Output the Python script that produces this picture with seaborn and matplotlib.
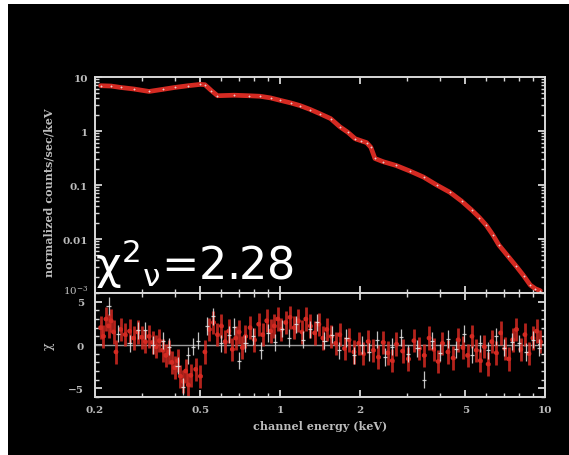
import numpy as np
import pandas as pd
import seaborn as sns
import matplotlib.pyplot as plt
import matplotlib.transforms as mtransforms
from matplotlib.patches import Rectangle
from matplotlib.ticker import FixedLocator, LogLocator, MultipleLocator, NullFormatter

# ---- data ----
spec_energy = [0.21, 0.23, 0.25, 0.28, 0.32, 0.36, 0.40, 0.45, 0.50, 0.52, 0.55, 0.58,
               0.67, 0.76, 0.84, 0.92, 1.00, 1.10, 1.19, 1.30, 1.41, 1.55, 1.68, 1.80,
               1.92, 2.02, 2.12, 2.20, 2.28, 2.45, 2.74, 3.10, 3.48, 3.90, 4.38, 4.85,
               5.30, 5.65, 6.00, 6.35, 6.70, 7.25, 7.80, 8.30, 8.80, 9.20, 9.60]
spec_flux = [6.9, 6.8, 6.4, 6.0, 5.4, 5.9, 6.4, 6.9, 7.3, 7.2, 5.6, 4.5,
             4.6, 4.5, 4.4, 4.1, 3.7, 3.3, 2.95, 2.5, 2.1, 1.7, 1.2, 0.95,
             0.72, 0.66, 0.61, 0.50, 0.31, 0.27, 0.23, 0.18, 0.14, 0.10, 0.073, 0.050,
             0.034, 0.025, 0.018, 0.012, 0.0077, 0.0048, 0.0031, 0.0021, 0.0014, 0.0012, 0.0011]

red_energy = [0.21, 0.215, 0.22, 0.225, 0.23, 0.235, 0.24, 0.25, 0.26, 0.27, 0.28, 0.29,
              0.30, 0.31, 0.32, 0.33, 0.34, 0.35, 0.36, 0.37, 0.38, 0.39, 0.40, 0.41,
              0.42, 0.43, 0.44, 0.45, 0.46, 0.48, 0.50, 0.52, 0.54, 0.56, 0.58, 0.60,
              0.62, 0.64, 0.66, 0.68, 0.70, 0.72, 0.74, 0.77, 0.80, 0.83, 0.86, 0.89,
              0.92, 0.95, 0.98, 1.01, 1.05, 1.09, 1.13, 1.17, 1.21, 1.25, 1.30, 1.35,
              1.40, 1.45, 1.50, 1.56, 1.62, 1.68, 1.75, 1.82, 1.90, 1.98, 2.06, 2.15,
              2.25, 2.35, 2.45, 2.55, 2.65, 2.75, 2.90, 3.05, 3.20, 3.35, 3.50, 3.65,
              3.80, 3.95, 4.10, 4.30, 4.50, 4.70, 4.90, 5.10, 5.30, 5.50, 5.70, 5.90,
              6.10, 6.30, 6.55, 6.80, 7.05, 7.30, 7.55, 7.80, 8.10, 8.40, 8.70, 9.00,
              9.30, 9.60]
red_resid = [2.0, 1.0, 3.0, 2.2, 2.8, 1.5, -0.8, 1.8, 1.2, 1.6, 0.8, 1.5,
             0.9, 0.4, 1.0, 0.3, -0.2, 0.5, -0.6, -1.2, -0.8, -2.0, -2.6, -1.8,
             -3.6, -4.2, -3.0, -4.6, -3.5, -2.8, -3.6, -0.8, 1.8, 2.6, 1.2, 2.2,
             0.4, 1.6, -0.5, 0.8, 1.5, -0.3, 1.0, 2.0, 0.6, 2.4, 1.2, 2.8,
             1.6, 2.2, 3.0, 1.8, 2.6, 3.2, 2.0, 2.8, 1.5, 3.0, 2.2, 1.4,
             2.4, 0.8, 1.8, 1.0, 0.2, 1.2, -0.4, 0.6, -0.8, 0.2, -1.0, 0.4,
             -0.6, -1.4, 0.3, -0.9, -1.8, 0.1, -0.7, -1.6, 0.5, -0.4, -1.2, 0.8,
             -0.5, -1.9, 0.2, -0.8, -1.5, 0.6, -0.3, -1.2, 1.0, -0.6, -1.8, -0.2,
             -2.2, 0.4, -0.9, 1.4, -0.4, -1.6, 0.6, 1.8, -0.5, 1.2, -1.0, 0.8,
             1.6, 0.4]

white_energy = [0.225, 0.245, 0.27, 0.29, 0.31, 0.33, 0.36, 0.38, 0.41, 0.43, 0.45, 0.47,
                0.49, 0.53, 0.56, 0.60, 0.64, 0.67, 0.70, 0.74, 0.79, 0.85, 0.90, 0.96,
                1.02, 1.08, 1.15, 1.22, 1.30, 1.38, 1.47, 1.57, 1.67, 1.78, 1.90, 2.03,
                2.17, 2.32, 2.48, 2.65, 2.85, 3.05, 3.30, 3.50, 3.75, 4.00, 4.30, 4.60,
                4.95, 5.30, 5.70, 6.10, 6.55, 7.00, 7.50, 8.00, 8.50, 9.00, 9.50]
white_resid = [4.5, 1.3, 0.2, 1.7, 1.7, 0.0, 0.5, -0.2, -2.4, -4.8, -1.2, -0.2,
               0.5, 2.2, 3.3, 0.2, 1.2, 2.1, -1.8, 0.2, 1.0, -0.6, 1.4, 0.3,
               1.9, 0.8, 2.4, 0.6, 1.8, 2.6, 0.5, 1.2, -0.6, 0.8, -1.2, 0.0,
               -0.8, 0.6, -1.4, -0.2, 0.9, -1.0, -0.4, -4.0, 0.5, -0.9, 0.7, -0.5,
               1.3, -1.1, 0.2, -0.6, 1.0, -0.3, 0.4, 0.2, -0.8, 0.6, -0.3]

x_ticks = [0.2, 0.5, 1, 2, 5, 10]
x_tick_labels = ['0.2', '0.5', '1', '2', '5', '10']
y_ticks_top = [1e-3, 0.01, 0.1, 1, 10]
y_tick_labels_top = [r'$10^{-3}$', '0.01', '0.1', '1', '10']
y_ticks_res = [-5, 0, 5]
y_tick_labels_res = ['\u22125', '0', '5']

# ---- style ----
sns.set_style('ticks')
plt.rcParams.update({
    'axes.facecolor': 'black',
    'axes.edgecolor': '#d8d8d8',
    'axes.linewidth': 1.4,
    'mathtext.fontset': 'dejavuserif',
})
SPINE = '#d8d8d8'
LABEL = '#bdbdbd'
RED = '#d42a22'

fig = plt.figure(figsize=(5.69, 4.56), dpi=100)
fig.patch.set_facecolor('white')
fig.add_artist(Rectangle((8 / 569, 0), 1 - 8 / 569, 1 - 5 / 456, transform=fig.transFigure,
                         facecolor='black', edgecolor='none', zorder=-5))

ax1 = fig.add_axes([95 / 569, 1 - 294 / 456, 450 / 569, 216 / 456])
ax2 = fig.add_axes([95 / 569, 1 - 398 / 456, 450 / 569, 104 / 456])

# upper panel: spectrum (red model line with white data crosses)
df_spec = pd.DataFrame({'energy': spec_energy, 'flux': spec_flux})
sns.lineplot(data=df_spec, x='energy', y='flux', ax=ax1, color=RED, linewidth=3.4)
sns.scatterplot(data=df_spec, x='energy', y='flux', ax=ax1, color='#f0f0f0',
                s=4, marker='+', linewidth=0.6, alpha=0.8, zorder=4)

# lower panel: residuals
ax2.axhline(0, color='#9a9a9a', linewidth=1.0, zorder=1)
red_e = np.array(red_energy)
white_e = np.array(white_energy)
ax2.errorbar(red_e, red_resid, yerr=1.35, xerr=red_e * 0.012, fmt='none',
             ecolor=RED, elinewidth=2.0, alpha=0.85, zorder=2)
ax2.errorbar(white_e, white_resid, yerr=1.0, xerr=white_e * 0.018, fmt='none',
             ecolor='#e6e6e6', elinewidth=0.9, alpha=0.85, zorder=3)
df_red = pd.DataFrame({'energy': red_energy, 'resid': red_resid})
sns.scatterplot(data=df_red, x='energy', y='resid', ax=ax2, color=RED, s=12,
                edgecolor='none', zorder=2)

for ax in (ax1, ax2):
    ax.set_xscale('log')
    ax.set_xlim(0.2, 10)
    ax.xaxis.set_major_locator(FixedLocator(x_ticks))
    ax.xaxis.set_minor_locator(LogLocator(base=10, subs=np.arange(2, 10)))
    ax.xaxis.set_minor_formatter(NullFormatter())
    ax.tick_params(which='both', direction='in', top=True, right=True,
                   color=SPINE, labelcolor=LABEL, labelsize=7.5)
    ax.tick_params(which='major', length=5, width=1.3)
    ax.tick_params(which='minor', length=2.8, width=1.0)
    ax.set_xlabel('')
    ax.set_ylabel('')
    for sp in ax.spines.values():
        sp.set_color(SPINE)

ax1.set_yscale('log')
ax1.set_ylim(1e-3, 10)
ax1.set_yticks(y_ticks_top)
ax1.set_yticklabels(y_tick_labels_top, family='DejaVu Serif', fontweight='bold')
ax1.yaxis.set_minor_locator(LogLocator(base=10, subs=np.arange(2, 10)))
ax1.yaxis.set_minor_formatter(NullFormatter())
ax1.tick_params(axis='x', labelbottom=False)
ax1.tick_params(axis='y', pad=5)
# nudge the bottom label up a little so it clears the residual "5"
lab_low = ax1.get_yticklabels()[0]
lab_low.set_transform(lab_low.get_transform() +
                      mtransforms.ScaledTranslation(0, 3 / 72, fig.dpi_scale_trans))

ax2.set_ylim(-6, 6)
ax2.set_yticks(y_ticks_res)
ax2.set_yticklabels(y_tick_labels_res, family='DejaVu Serif', fontweight='bold')
ax2.yaxis.set_minor_locator(MultipleLocator(1))
ax2.set_xticks(x_ticks)
ax2.set_xticklabels(x_tick_labels, family='DejaVu Serif', fontweight='bold')
ax2.tick_params(axis='y', pad=8)
ax2.tick_params(axis='x', pad=6)

ax1.set_ylabel('normalized counts/sec/keV', color=LABEL, fontsize=8,
               family='DejaVu Serif', fontweight='bold')
ax1.yaxis.set_label_coords(-0.09, 0.47)
ax2.set_ylabel('\u03c7', color=LABEL, fontsize=9, family='DejaVu Serif', rotation=90)
ax2.yaxis.set_label_coords(-0.09, 0.5)
ax2.set_xlabel('channel energy (keV)', color=LABEL, fontsize=8,
               family='DejaVu Serif', fontweight='bold', labelpad=4)

fig.text(95 / 569, 1 - 280 / 456, r'$\mathregular{\chi^{2}{}_{\nu}}$=2.28',
         color='white', fontsize=32, family='DejaVu Sans', ha='left', va='baseline')

fig.savefig('out.png', dpi=100, facecolor=fig.get_facecolor())
